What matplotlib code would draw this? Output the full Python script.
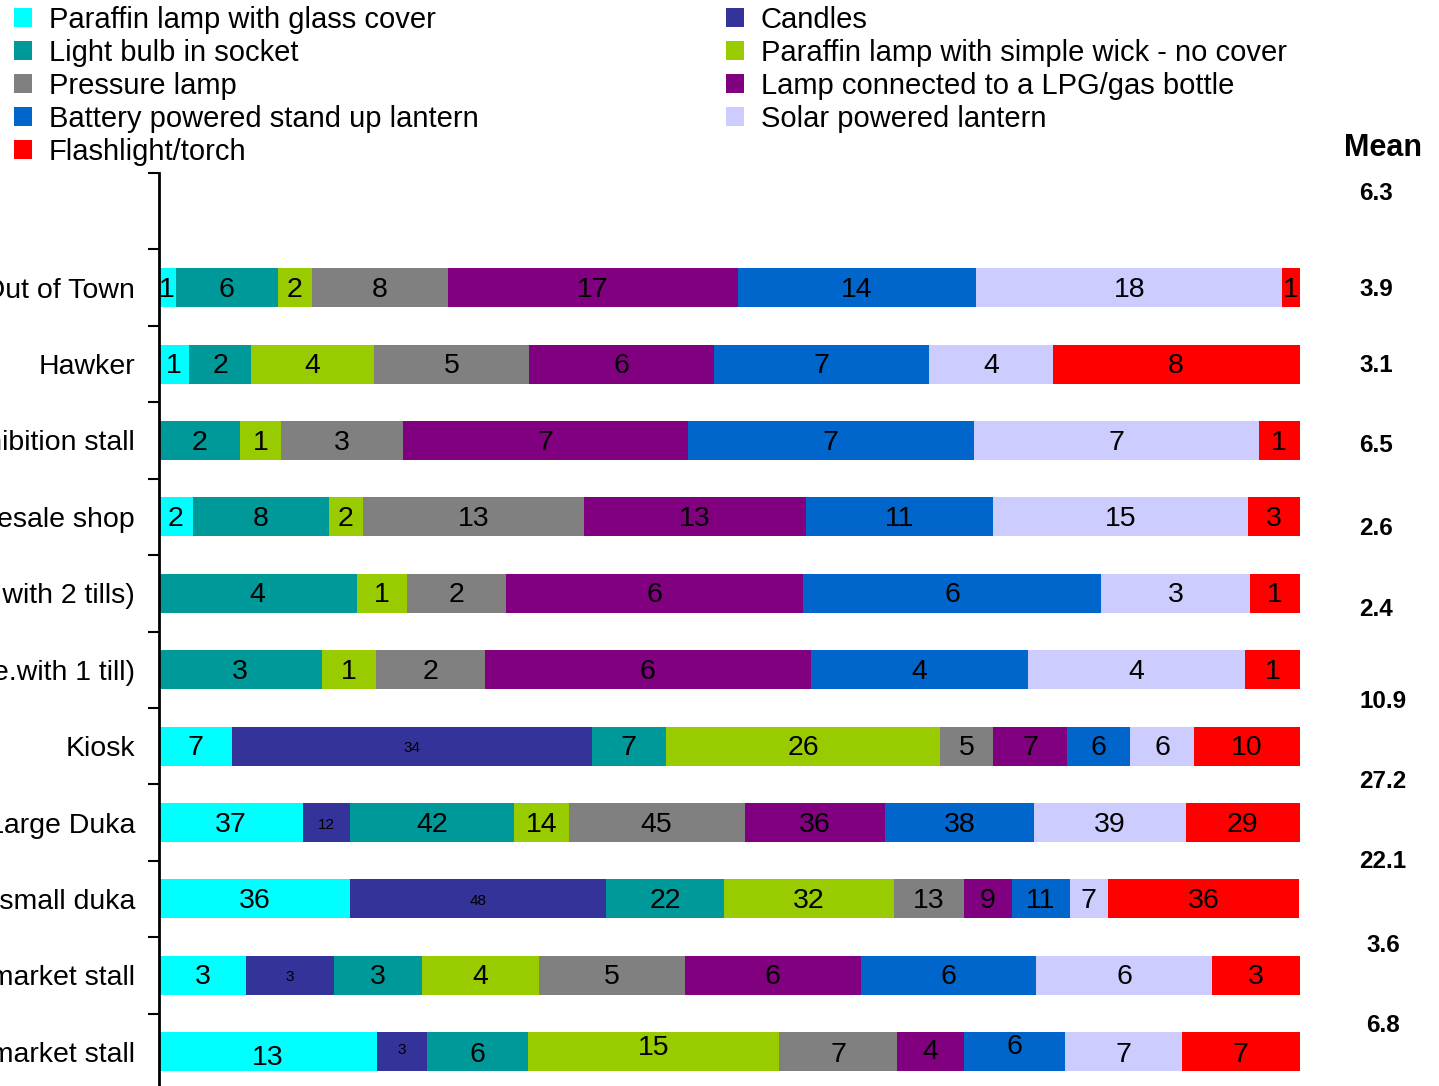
import numpy as np
import matplotlib
matplotlib.use("Agg")
import matplotlib.pyplot as plt

plt.rcParams['font.family'] = ['Liberation Sans', 'DejaVu Sans']

# Outlet types, top to bottom (the first slot is left empty)
categories = ["", "Out of Town", "Hawker", "Exhibition stall", "Wholesale shop",
              "Supermarket (i.e. with 2 tills)", "Minimarket (i.e.with 1 till)",
              "Kiosk", "Large Duka", "Medium/small duka",
              "Covered market stall", "Open market stall"]

series = ["Paraffin lamp with glass cover", "Candles", "Light bulb in socket",
          "Paraffin lamp with simple wick - no cover", "Pressure lamp",
          "Lamp connected to a LPG/gas bottle", "Battery powered stand up lantern",
          "Solar powered lantern", "Flashlight/torch"]

colors = ["#00FFFF", "#333399", "#009999", "#99CC00", "#808080",
          "#800080", "#0066CC", "#CCCCFF", "#FF0000"]

# Counts per outlet (rows) and light source (columns, in series order)
counts = np.array([
    [0, 0, 0, 0, 0, 0, 0, 0, 0],
    [1, 0, 6, 2, 8, 17, 14, 18, 1],
    [1, 0, 2, 4, 5, 6, 7, 4, 8],
    [0, 0, 2, 1, 3, 7, 7, 7, 1],
    [2, 0, 8, 2, 13, 13, 11, 15, 3],
    [0, 0, 4, 1, 2, 6, 6, 3, 1],
    [0, 0, 3, 1, 2, 6, 4, 4, 1],
    [7, 34, 7, 26, 5, 7, 6, 6, 10],
    [37, 12, 42, 14, 45, 36, 38, 39, 29],
    [36, 48, 22, 32, 13, 9, 11, 7, 36],
    [3, 3, 3, 4, 5, 6, 6, 6, 3],
    [13, 3, 6, 15, 7, 4, 6, 7, 7],
], dtype=float)

means = ["6.3", "3.9", "3.1", "6.5", "2.6", "2.4", "10.9", "27.2", "22.1", "3.6", "6.8"]

W, H = 1439, 1086
fig = plt.figure(figsize=(W / 100, H / 100), dpi=100)

ax_left, ax_right = 158.5 / W, 1299.5 / W
ax_top, ax_bot = 1 - 173 / H, 1 - 1090 / H
ax = fig.add_axes([ax_left, ax_bot, ax_right - ax_left, ax_top - ax_bot])

totals = counts.sum(axis=1)
totals[totals == 0] = 1
shares = counts / totals[:, None]
ypos = np.arange(len(categories))

# per-label vertical nudges (points) for the bottom row
nudge_last = [-3, 3, -1, 4, -1, 1, 5, -1, -1]
base_dy = -1.5

left = np.zeros(len(categories))
containers = []
for j, (name, col) in enumerate(zip(series, colors)):
    bc = ax.barh(ypos, shares[:, j], left=left, height=0.51, color=col,
                 edgecolor='none', label=name)
    containers.append(bc)
    for i in range(len(categories)):
        v = counts[i, j]
        if v <= 0:
            continue
        cx = left[i] + shares[i, j] / 2
        dy = base_dy + (nudge_last[j] if i == len(categories) - 1 else 0)
        fs = 11 if name == "Candles" else 20.5
        ax.annotate(f"{int(v)}", (cx, ypos[i]), xytext=(0, dy),
                    textcoords='offset points', ha='center', va='center',
                    fontsize=fs, color='black')
    left += shares[:, j]

ax.set_xlim(0, 1)
ax.set_ylim(len(categories) - 0.5, -0.5)
ax.set_yticks(ypos[1:])
ax.set_yticklabels(categories[1:], fontsize=20.5)
ax.tick_params(axis='y', which='major', length=0, pad=17)
ax.set_yticks(np.arange(-0.5, len(categories) - 0.5, 1.0), minor=True)
ax.tick_params(axis='y', which='minor', length=8, width=1.5, direction='out')
ax.xaxis.set_visible(False)
for s in ['top', 'right', 'bottom']:
    ax.spines[s].set_visible(False)
ax.spines['left'].set_linewidth(2)

# Legend in two columns
order1 = [0, 2, 4, 6, 8]
order2 = [1, 3, 5, 7]
common = dict(frameon=False, fontsize=21, handlelength=0.62, handleheight=0.62,
              handletextpad=0.58, labelspacing=0.17, borderpad=0, borderaxespad=0)
fig.legend([containers[k] for k in order1], [series[k] for k in order1],
           loc='upper left', bbox_to_anchor=(14 / W, 1 - 6 / H), **common)
fig.legend([containers[k] for k in order2], [series[k] for k in order2],
           loc='upper left', bbox_to_anchor=(726 / W, 1 - 6 / H), **common)

# Mean column
fig.text(1383 / W, 1 - 148 / H, "Mean", ha='center', va='center',
         fontsize=22, fontweight='bold')
mean_x = [1376, 1376, 1376, 1376, 1376, 1376, 1383, 1383, 1383, 1383, 1383]
mean_y = [193, 289, 365, 445, 529, 609, 701, 781, 861, 945, 1025]
for m, mx, my in zip(means, mean_x, mean_y):
    fig.text(mx / W, 1 - my / H, m, ha='center', va='center',
             fontsize=17.5, fontweight='bold')

fig.savefig("out.png", dpi=100)
